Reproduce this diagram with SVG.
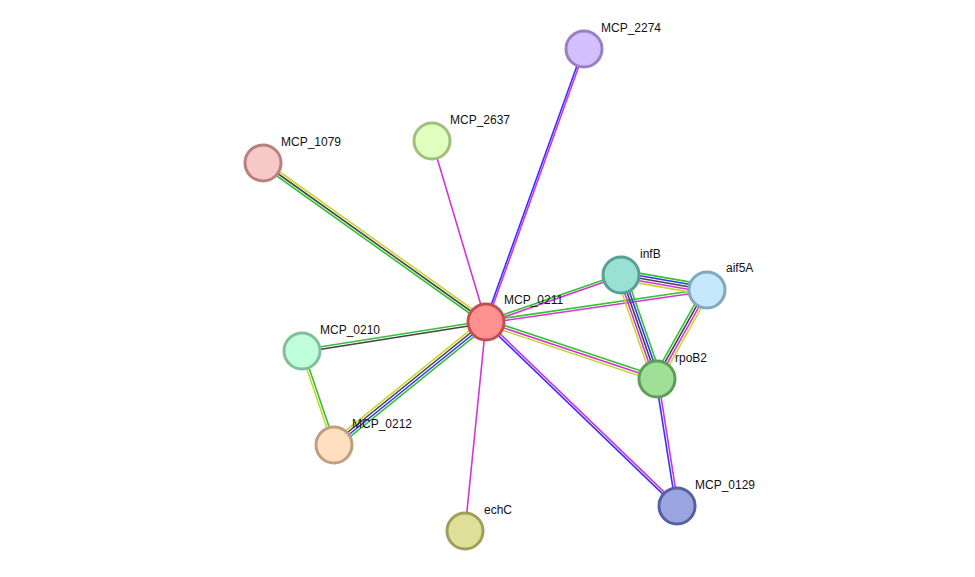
<svg xmlns="http://www.w3.org/2000/svg" width="975" height="577" viewBox="0 0 975 577">
<style>
line{stroke-width:1.6;fill:none}
.g{stroke:#33c233}.b{stroke:#3333ff}.m{stroke:#d633d6}.y{stroke:#c8d62e}.k{stroke:#444}
circle{stroke-width:3}
text{font-family:"Liberation Sans",Arial,sans-serif;font-size:12px;fill:#111}
</style>
<rect width="975" height="577" fill="#fff"/>
<g id="edges">
<line class="b" x1="485" y1="322" x2="583" y2="49"/><line class="m" x1="487" y1="322" x2="585" y2="49"/>
<line class="m" x1="486" y1="322" x2="432" y2="141"/>
<line class="y" x1="487.5" y1="320" x2="264.5" y2="161"/><line class="k" x1="486" y1="322" x2="263" y2="163"/><line class="g" x1="484.5" y1="324" x2="261.5" y2="165"/>
<line class="g" x1="486" y1="320.8" x2="302" y2="349.8"/><line class="k" x1="486" y1="323.2" x2="302" y2="352.2"/>
<line class="y" x1="483.6" y1="319.1" x2="331.6" y2="442.1"/><line class="k" x1="485.2" y1="321" x2="333.2" y2="444"/><line class="b" x1="486.8" y1="323" x2="334.8" y2="446"/><line class="g" x1="488.4" y1="324.9" x2="336.4" y2="447.9"/>
<line class="y" x1="300.9" y1="351.4" x2="332.9" y2="445.4"/><line class="g" x1="303.1" y1="350.6" x2="335.1" y2="444.6"/>
<line class="m" x1="486" y1="322" x2="465" y2="531"/>
<line class="b" x1="485.2" y1="322.9" x2="676.2" y2="506.9"/><line class="m" x1="486.8" y1="321.1" x2="677.8" y2="505.1"/>
<line class="g" x1="485.6" y1="320.9" x2="620.6" y2="273.9"/><line class="m" x1="486.4" y1="323.1" x2="621.4" y2="276.1"/>
<line class="g" x1="485.8" y1="320.8" x2="706.8" y2="288.8"/><line class="m" x1="486.2" y1="323.2" x2="707.2" y2="291.2"/>
<line class="g" x1="486.8" y1="319.6" x2="657.8" y2="376.6"/><line class="m" x1="486" y1="322" x2="657" y2="379"/><line class="y" x1="485.2" y1="324.4" x2="656.2" y2="381.4"/>
<line class="g" x1="621.85" y1="270.1" x2="707.85" y2="285.1"/><line class="b" x1="621.43" y1="272.55" x2="707.43" y2="287.55"/><line class="k" x1="621" y1="275" x2="707" y2="290"/><line class="m" x1="620.57" y1="277.45" x2="706.57" y2="292.45"/><line class="y" x1="620.15" y1="279.9" x2="706.15" y2="294.9"/>
<line class="y" x1="616.3" y1="276.6" x2="652.3" y2="380.6"/><line class="m" x1="618.65" y1="275.8" x2="654.65" y2="379.8"/><line class="k" x1="621" y1="275" x2="657" y2="379"/><line class="b" x1="623.35" y1="274.2" x2="659.35" y2="378.2"/><line class="g" x1="625.7" y1="273.4" x2="661.7" y2="377.4"/>
<line class="g" x1="703.7" y1="288.2" x2="653.7" y2="377.2"/><line class="k" x1="705.9" y1="289.4" x2="655.9" y2="378.4"/><line class="m" x1="708.1" y1="290.6" x2="658.1" y2="379.6"/><line class="y" x1="710.3" y1="291.8" x2="660.3" y2="380.8"/>
<line class="b" x1="655.8" y1="379.2" x2="675.8" y2="506.2"/><line class="m" x1="658.2" y1="378.8" x2="678.2" y2="505.8"/>
</g>
<g id="MCP_2274"><circle cx="584" cy="49" r="18" fill="#d4bfff" stroke="#9a7fc4"/><text x="601" y="32">MCP_2274</text></g>
<g id="MCP_2637"><circle cx="432" cy="141" r="18" fill="#e0ffbf" stroke="#a0bf7f"/><text x="450" y="124">MCP_2637</text></g>
<g id="MCP_1079"><circle cx="263" cy="163" r="18" fill="#f7c8c8" stroke="#b98080"/><text x="281" y="146">MCP_1079</text></g>
<g id="infB"><circle cx="621" cy="275" r="18" fill="#99e0d5" stroke="#5a9e96"/><text x="640" y="258">infB</text></g>
<g id="aif5A"><circle cx="707" cy="290" r="18" fill="#c5e8fc" stroke="#80a8c0"/><text x="726" y="272">aif5A</text></g>
<g id="MCP_0211"><circle cx="486" cy="322" r="18" fill="#ff9191" stroke="#c05050"/><text x="504" y="304">MCP_0211</text></g>
<g id="MCP_0210"><circle cx="302" cy="351" r="18" fill="#bfffd9" stroke="#80bf99"/><text x="320" y="334">MCP_0210</text></g>
<g id="rpoB2"><circle cx="657" cy="379" r="18" fill="#9de096" stroke="#5e9e58"/><text x="675" y="362">rpoB2</text></g>
<g id="MCP_0212"><circle cx="334" cy="445" r="18" fill="#ffdfbf" stroke="#bf9f80"/><text x="352" y="428">MCP_0212</text></g>
<g id="echC"><circle cx="465" cy="531" r="18" fill="#dfdf99" stroke="#9f9f5a"/><text x="484" y="514">echC</text></g>
<g id="MCP_0129"><circle cx="677" cy="506" r="18" fill="#9aa5e0" stroke="#5560a0"/><text x="695" y="489">MCP_0129</text></g>
</svg>
